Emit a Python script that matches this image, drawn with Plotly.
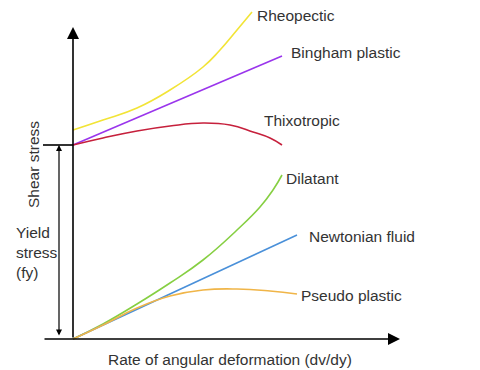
import plotly.graph_objects as go

# Data (arbitrary units: shear stress vs rate of angular deformation)
yield_stress = 194

rheo_x = [0, 30, 64, 97, 130, 147, 164, 179]
rheo_y = [209, 219, 231, 249, 272, 289, 309, 327]

bing_x = [0, 209]
bing_y = [194, 283]

thix_x = [0, 30, 64, 97, 130, 157, 180, 197, 209]
thix_y = [194, 201, 208, 213, 216, 214, 207, 201, 194]

dila_x = [0, 30, 64, 97, 130, 164, 187, 200, 209]
dila_y = [0, 15, 35, 56, 79, 109, 132, 149, 164]

newt_x = [0, 224]
newt_y = [0, 104]

pseu_x = [0, 30, 64, 97, 130, 164, 197, 224]
pseu_y = [0, 14, 31, 43, 49, 50, 48, 45]

names = ["Rheopectic", "Bingham plastic", "Thixotropic", "Dilatant", "Newtonian fluid", "Pseudo plastic"]
xs = [rheo_x, bing_x, thix_x, dila_x, newt_x, pseu_x]
ys = [rheo_y, bing_y, thix_y, dila_y, newt_y, pseu_y]
colors = ["#f2e436", "#9a35ec", "#c6203c", "#86cf42", "#4a90d9", "#f0b548"]
label_shift = [(3, -3), (7, 4), (-20, 25), (2, -3), (10, -1), (2, -1)]

FONT = dict(family="Liberation Sans, Arial, sans-serif", size=15.5, color="#333333")

fig = go.Figure()
for n, x, y, c in zip(names, xs, ys, colors):
    fig.add_trace(go.Scatter(x=x, y=y, mode="lines", name=n,
                             line=dict(color=c, width=1.6, shape="spline", smoothing=1.3),
                             hoverinfo="skip"))

annotations = []
for n, x, y, (dx, dy) in zip(names, xs, ys, label_shift):
    annotations.append(dict(x=x[-1], y=y[-1], xref="x", yref="y", text=n, showarrow=False,
                            xanchor="left", yanchor="middle", xshift=dx, yshift=dy, font=FONT))

# axes with arrowheads
annotations.append(dict(x=327, y=0, ax=-30, ay=0, xref="x", yref="y", axref="x", ayref="y",
                        text="", showarrow=True, arrowhead=2, arrowsize=1.5, arrowwidth=1.6,
                        arrowcolor="black"))
annotations.append(dict(x=0, y=312, ax=0, ay=0, xref="x", yref="y", axref="x", ayref="y",
                        text="", showarrow=True, arrowhead=2, arrowsize=1.5, arrowwidth=1.6,
                        arrowcolor="black"))
# yield stress double arrow
annotations.append(dict(x=-14, y=yield_stress, ax=-14, ay=2, xref="x", yref="y", axref="x", ayref="y",
                        text="", showarrow=True, arrowhead=2, startarrowhead=2, arrowside="end+start",
                        arrowsize=1, startarrowsize=1, arrowwidth=1.2, arrowcolor="black"))

annotations.append(dict(x=-40, y=174, xref="x", yref="y", text="Shear stress", textangle=-90,
                        showarrow=False, font=FONT))
annotations.append(dict(x=-59, y=87, xref="x", yref="y", text="Yield<br>stress<br>(fy)",
                        showarrow=False, xanchor="left", align="left", font=FONT))
annotations.append(dict(x=157, y=-20, xref="x", yref="y", text="Rate of angular deformation (dv/dy)",
                        showarrow=False, font=FONT))

# page body has an 8px margin: figure is 472x362 so it fits the 480x370 window
fig.update_layout(
    width=472, height=362, autosize=False,
    margin=dict(l=0, r=0, t=0, b=0),
    paper_bgcolor="white", plot_bgcolor="white",
    showlegend=False,
    xaxis=dict(range=[-65, 407], visible=False, fixedrange=True),
    yaxis=dict(range=[-31, 331], visible=False, fixedrange=True),
    annotations=annotations,
    shapes=[dict(type="line", x0=-30, x1=0, y0=yield_stress, y1=yield_stress,
                 xref="x", yref="y", line=dict(color="black", width=1.6))],
)

fig.write_html("out.html", config={"displayModeBar": False})
